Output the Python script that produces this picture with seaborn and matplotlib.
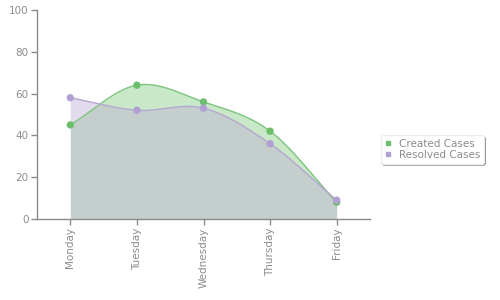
import numpy as np
import pandas as pd
import matplotlib
matplotlib.use("Agg")
import matplotlib.pyplot as plt
import seaborn as sns
from matplotlib.lines import Line2D

days = ["Monday", "Tuesday", "Wednesday", "Thursday", "Friday"]
created = [45, 64, 56, 42, 8]
resolved = [58, 52, 53, 36, 9]
series_names = ["Created Cases", "Resolved Cases"]
yticks = [0, 20, 40, 60, 80, 100]

GREEN_FILL = (100/255, 190/255, 100/255)
PURPLE_FILL = (189/255, 173/255, 212/255)
GREEN_LINE = "#7cc47c"
PURPLE_LINE = "#b6a6d2"
GREEN_MARK = "#6cbd6c"
PURPLE_MARK = "#b29fd4"
GRAY_TEXT = "#8c8c8c"
AXIS = "#8a8a8a"


def catmull_rom(y, n=40):
    y = np.asarray(y, float)
    x = np.arange(len(y), dtype=float)
    m = np.zeros_like(y)
    m[1:-1] = (y[2:] - y[:-2]) / 2.0
    m[0] = y[1] - y[0]
    m[-1] = y[-1] - y[-2]
    xs, ys = [], []
    for i in range(len(y) - 1):
        t = np.linspace(0, 1, n, endpoint=(i == len(y) - 2))
        h00 = 2*t**3 - 3*t**2 + 1
        h10 = t**3 - 2*t**2 + t
        h01 = -2*t**3 + 3*t**2
        h11 = t**3 - t**2
        xs.append(x[i] + t)
        ys.append(h00*y[i] + h10*m[i] + h01*y[i+1] + h11*m[i+1])
    return np.concatenate(xs), np.concatenate(ys)


sns.set_style("white")
plt.rcParams["font.family"] = ["DejaVu Sans"]

fig = plt.figure(figsize=(5, 3), dpi=100)
ax = fig.add_axes([0.074, 0.27, 0.666, 0.697])

df = pd.DataFrame({"day": list(range(len(days))) * 2,
                   "value": created + resolved,
                   "series": [series_names[0]] * len(days) + [series_names[1]] * len(days)})

xc, yc = catmull_rom(created)
xr, yr = catmull_rom(resolved)

ax.fill_between(xc, 0, yc, color=GREEN_FILL, alpha=0.35, linewidth=0, zorder=1)
ax.fill_between(xr, 0, yr, color=PURPLE_FILL, alpha=0.44, linewidth=0, zorder=2)
ax.plot(xc, yc, color=GREEN_LINE, lw=1.0, zorder=3)
ax.plot(xr, yr, color=PURPLE_LINE, lw=1.0, zorder=3)

sns.scatterplot(data=df, x="day", y="value", hue="series",
                palette={series_names[0]: GREEN_MARK, series_names[1]: PURPLE_MARK},
                s=28, linewidth=0, ax=ax, legend=False, zorder=4)

ax.set_xlim(-0.5, 4.5)
ax.set_ylim(0, 100)
ax.set_xticks(range(len(days)))
ax.set_xticklabels(days, rotation=90, color=GRAY_TEXT, fontsize=7.5)
ax.set_yticks(yticks)
ax.set_yticklabels([str(v) for v in yticks], color=GRAY_TEXT, fontsize=7.5)
ax.set_xlabel("")
ax.set_ylabel("")
ax.tick_params(axis="both", direction="out", length=4, width=1, color=AXIS,
               bottom=True, left=True, pad=2)
for s in ["top", "right"]:
    ax.spines[s].set_visible(False)
for s in ["left", "bottom"]:
    ax.spines[s].set_color(AXIS)
    ax.spines[s].set_linewidth(1)

handles = [Line2D([], [], marker="s", ls="", color=GREEN_MARK, markersize=3.5),
           Line2D([], [], marker="s", ls="", color=PURPLE_MARK, markersize=3.5)]
leg = fig.legend(handles, series_names, loc="center left",
                 bbox_to_anchor=(0.757, 0.502), fontsize=7.5, frameon=True,
                 fancybox=True, shadow={"ox": 1.2, "oy": -1.2, "color": "#888888", "alpha": 0.8},
                 handlelength=0.8, handletextpad=0.6, labelspacing=0.1,
                 borderpad=0.35, borderaxespad=0.2, labelcolor=GRAY_TEXT)
leg.get_frame().set_edgecolor("#ececec")
leg.get_frame().set_facecolor("white")
leg.get_frame().set_linewidth(0.8)
leg._legend_box.align = "left"

fig.savefig("out.png", dpi=100)
